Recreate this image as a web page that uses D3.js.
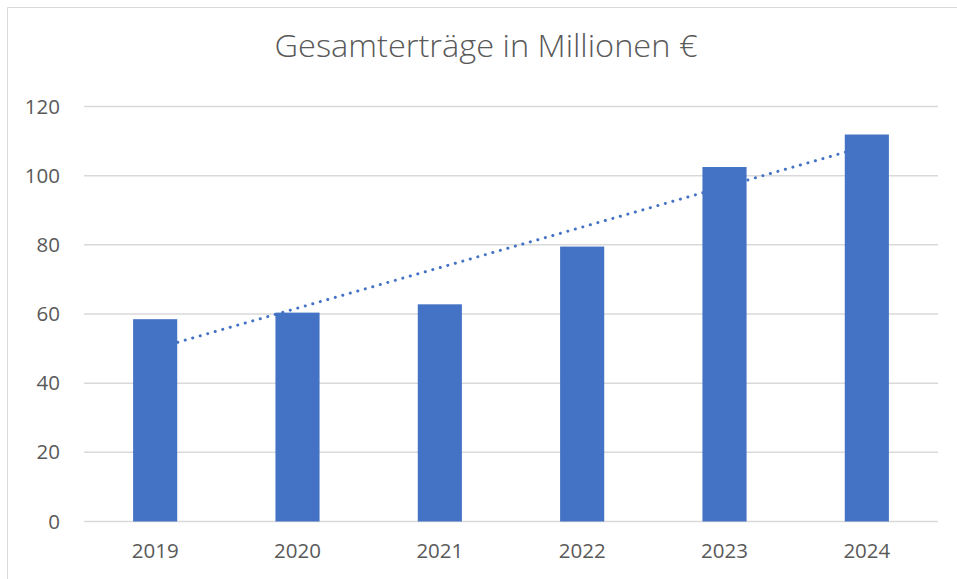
<!DOCTYPE html>
<html><head><meta charset="utf-8">
<script src="https://cdn.jsdelivr.net/npm/d3@7"></script>
<style>body{margin:0;background:#fff}svg{display:block}text{font-family:"Open Sans",sans-serif}</style>
</head><body><svg id="c" width="957" height="579"></svg>
<script>
const title = "Gesamterträge in Millionen €";
const categories = ["2019","2020","2021","2022","2023","2024"];
const values = [58.5, 60.4, 62.8, 79.5, 102.5, 111.9];
const yTicks = [0,20,40,60,80,100,120];

const svg = d3.select("#c");
const W = 957, H = 579;
const m = {left:84, right:19, top:106.5, bottom:57.5};
svg.append("rect").attr("x",0).attr("y",0).attr("width",W).attr("height",H).attr("fill","#fff");
svg.append("path").attr("d",`M7.5,${H} V7.5 H${W}`).attr("fill","none").attr("stroke","#d9d9d9").attr("stroke-width",1);

const x = d3.scaleBand().domain(categories).range([m.left, W-m.right]).paddingInner(0.69).paddingOuter(0.345);
const y = d3.scaleLinear().domain([0,120]).range([H-m.bottom, m.top]);

svg.append("g").selectAll("line").data(yTicks).join("line")
  .attr("x1",m.left).attr("x2",W-m.right)
  .attr("y1",d=>y(d)).attr("y2",d=>y(d))
  .attr("stroke","#d9d9d9").attr("stroke-width",1.5);

const yAxis = d3.axisLeft(y).tickValues(yTicks).tickSize(0).tickPadding(0);
const ya = svg.append("g").attr("transform",`translate(60,0)`).call(yAxis);
ya.select(".domain").remove();
ya.selectAll("text").attr("font-size",20.5).attr("fill","#595959").style("font-family","'Open Sans',sans-serif");

const xAxis = d3.axisBottom(x).tickSize(0).tickPadding(0);
const xa = svg.append("g").attr("transform",`translate(0,${H-m.bottom+22})`).call(xAxis);
xa.select(".domain").remove();
xa.selectAll("text").attr("font-size",20.5).attr("fill","#595959").style("font-family","'Open Sans',sans-serif");

const n = values.length;
const xs = values.map((_,i)=>i+1);
const mx = d3.mean(xs), my = d3.mean(values);
const slope = d3.sum(xs.map((xi,i)=>(xi-mx)*(values[i]-my))) / d3.sum(xs.map(xi=>(xi-mx)**2));
const icpt = my - slope*mx;
const trend = categories.map((c,i)=>({c, v: icpt + slope*(i+1)}));
const line = d3.line().x(d=>x(d.c)+x.bandwidth()/2).y(d=>y(d.v));
svg.append("path").datum([trend[0], trend[n-1]]).attr("d",line)
  .attr("fill","none").attr("stroke","#4472C4").attr("stroke-width",3)
  .attr("stroke-linecap","round").attr("stroke-dasharray","0.1 7.7");

svg.append("g").selectAll("rect").data(values).join("rect")
  .attr("x",(d,i)=>x(categories[i])).attr("width",x.bandwidth())
  .attr("y",d=>y(d)).attr("height",d=>y(0)-y(d))
  .attr("fill","#4472C4");

svg.append("text").attr("x",486).attr("y",57).attr("text-anchor","middle")
  .attr("font-size",31.5).attr("fill","#595959").style("font-weight",300)
  .attr("textLength",423).attr("lengthAdjust","spacingAndGlyphs").text(title);
</script></body></html>
